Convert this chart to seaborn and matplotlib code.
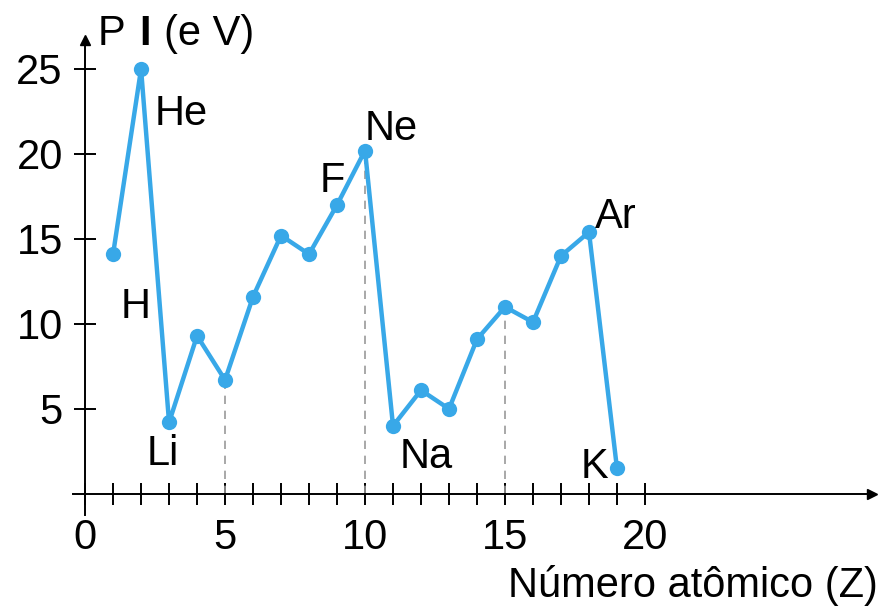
import matplotlib
matplotlib.use("Agg")
import matplotlib.pyplot as plt
import seaborn as sns
import pandas as pd

# atomic number and first ionisation energy (eV)
atomic_number = list(range(1, 20))
ionization_ev = [14.1, 25.0, 4.2, 9.3, 6.7, 11.6, 15.2, 14.1, 17.0, 20.2,
                 4.0, 6.1, 5.0, 9.1, 11.0, 10.1, 14.0, 15.4, 1.5]

element_labels = ["H", "He", "Li", "F", "Ne", "Na", "Ar", "K"]
label_x = [1.79, 2.5, 2.79, 8.82, 10.0, 12.18, 18.96, 18.18]
label_y = [10.35, 21.7, 1.7, 17.76, 20.8, 1.53, 15.65, 0.94]
label_ha = ["center", "left", "center", "center", "left", "center", "center", "center"]

guide_z = [5, 10, 15]
x_ticks = list(range(0, 21))
x_tick_labels = [str(t) if t % 5 == 0 else "" for t in x_ticks]
y_ticks = [5, 10, 15, 20, 25]

BLUE = "#38a8e8"

sns.set_style("white")
plt.rcParams["font.family"] = ["Liberation Sans", "DejaVu Sans"]
plt.rcParams["text.color"] = "black"

data = pd.DataFrame({"Z": atomic_number, "PI": ionization_ev})

fig = plt.figure(figsize=(8.81, 6.07), dpi=100)
ax = fig.add_axes([0.0829, 0.1516, 0.9069, 0.7825])

# dashed guides from the point down to the axis
guide_top = [ionization_ev[atomic_number.index(z)] for z in guide_z]
ax.vlines(guide_z, 0, guide_top, colors="#9a9a9a", linestyles=(0, (5, 4)),
          linewidth=1.2, zorder=1)

sns.lineplot(data=data, x="Z", y="PI", ax=ax, color=BLUE, linewidth=3.2,
             marker="o", markersize=11, markeredgewidth=0, sort=False, zorder=3)

ax.set_xlim(-0.43, 28.11)
ax.set_ylim(-1.24, 26.7)

for s in ["top", "right"]:
    ax.spines[s].set_visible(False)
ax.spines["left"].set_position(("data", 0))
ax.spines["bottom"].set_position(("data", 0))
for s in ["left", "bottom"]:
    ax.spines[s].set_color("black")
    ax.spines[s].set_linewidth(1.4)

# arrow heads on the axes
ax.plot(1, 0, ">", color="black", markersize=7, transform=ax.get_yaxis_transform(), clip_on=False)
ax.plot(0, 1, "^", color="black", markersize=7, transform=ax.get_xaxis_transform(), clip_on=False)

ax.set_xticks(x_ticks)
ax.set_xticklabels(x_tick_labels)
ax.set_yticks(y_ticks)
ax.tick_params(axis="both", direction="inout", length=16, width=1.4, color="black",
               labelsize=30, labelcolor="black", bottom=True, left=True)
ax.tick_params(axis="x", pad=9)
ax.tick_params(axis="y", pad=8)
ax.set_xlabel("")
ax.set_ylabel("")

for txt, x, y, ha in zip(element_labels, label_x, label_y, label_ha):
    ax.text(x, y, txt, fontsize=30, ha=ha, va="baseline", color="black")

# y axis title, the I is drawn bold
ax.text(0.46, 26.41, "P", fontsize=30, ha="left", va="baseline", color="black", clip_on=False)
ax.text(1.95, 26.41, "I", fontsize=30, fontweight="bold", ha="left", va="baseline",
        color="black", clip_on=False)
ax.text(2.82, 26.41, "(e V)", fontsize=30, ha="left", va="baseline", color="black", clip_on=False)

ax.text(28.32, -6.06, "Número atômico (Z)", fontsize=30, ha="right", va="baseline",
        color="black", clip_on=False)

fig.savefig("out.png", dpi=100)
